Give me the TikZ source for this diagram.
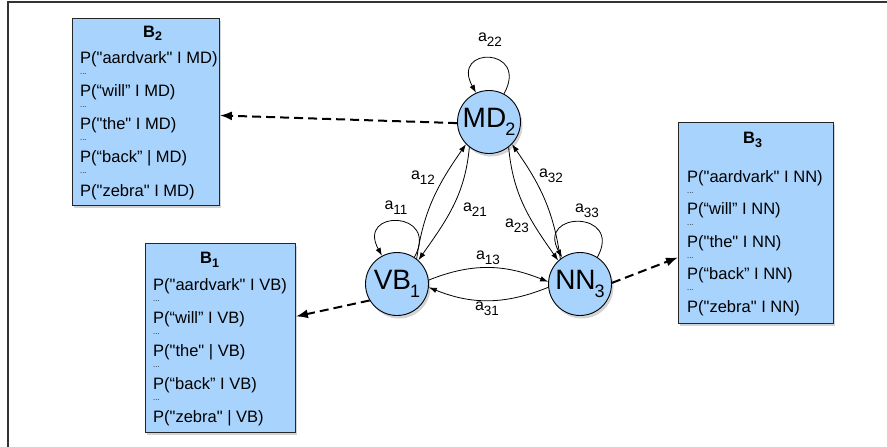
\documentclass[tikz,border=0pt]{standalone}
\usepackage{fontspec}
\setmainfont{Liberation Sans}[Ligatures=TeXOff]
\usetikzlibrary{arrows.meta,shadows}
\definecolor{stfill}{RGB}{168,211,253}
\newcommand{\alabel}[1]{a\raisebox{-5pt}{\fontsize{13.5}{13.5}\selectfont #1}}
\newcommand{\stlabel}[2]{#1\kern-1pt\raisebox{-8pt}{\fontsize{18}{18}\selectfont #2}}
\newcommand{\btl}[1]{B\raisebox{-4pt}{\fontsize{12.5}{12.5}\selectfont #1}}
\begin{document}
\begin{tikzpicture}[x=1pt,y=1pt,
  state/.style={circle, draw=black, line width=0.9pt, fill=stfill, minimum size=63pt, inner sep=0pt,
    drop shadow={opacity=0.35, shadow xshift=2pt, shadow yshift=-3pt},
    font=\fontsize{28}{28}\selectfont},
  bbox/.style={rectangle, draw=black!85, line width=0.9pt, fill=stfill, anchor=north west, inner sep=0pt,
    drop shadow={opacity=0.35, shadow xshift=2pt, shadow yshift=-3pt}},
  bline/.style={anchor=base west, inner sep=0pt, font=\fontsize{16.5}{16.5}\selectfont},
  bdots/.style={anchor=base west, inner sep=0pt, font=\fontsize{7.5}{7.5}\selectfont},
  btitle/.style={anchor=base west, inner sep=0pt, font=\bfseries\fontsize{16.5}{16.5}\selectfont},
  trans/.style={-{Latex[length=8pt,width=5.5pt]}, line width=0.8pt},
  emit/.style={-{Latex[length=12pt,width=9pt]}, line width=2pt, dash pattern=on 9pt off 5pt},
  alab/.style={inner sep=0pt, font=\fontsize{16}{16}\selectfont}
]
\useasboundingbox (0,0) rectangle (887,-447);
\draw[line width=1.2pt, draw=black!80] (8,-447) -- (8,-2) -- (887,-2);

% emission boxes
\node[bbox, minimum width=147pt, minimum height=187pt] (b2) at (72,-18) {};
\node[bbox, minimum width=150pt, minimum height=189pt] (b1) at (145,-243) {};
\node[bbox, minimum width=155pt, minimum height=201pt] (b3) at (678,-122) {};

\node[btitle] (b2t) at (143,-37) {\btl{2}};
\foreach \t [count=\i from 0] in {P("aardvark" I MD), P(“will” I MD), P("the" I MD), P(“back” | MD), P("zebra" I MD)}
  \node[bline] (b2l\i) at (80,{-63-33.25*\i}) {\t};
\foreach \i in {0,...,3}
  \node[bdots] (b2d\i) at (80,{-74-33.25*\i}) {...};

\node[btitle] (b1t) at (200,-263) {\btl{1}};
\foreach \t [count=\i from 0] in {P("aardvark" I VB), P(“will” I VB), P("the" | VB), P(“back” I VB), P("zebra" | VB)}
  \node[bline] (b1l\i) at (153,{-290-33*\i}) {\t};
\foreach \i in {0,...,3}
  \node[bdots] (b1d\i) at (153,{-301-33*\i}) {...};

\node[btitle] (b3t) at (743,-143) {\btl{3}};
\foreach \t [count=\i from 0] in {P("aardvark" I NN), P(“will” I NN), P("the" I NN), P(“back” I NN), P("zebra" I NN)}
  \node[bline] (b3l\i) at (687,{-182-32.5*\i}) {\t};
\foreach \i in {0,...,3}
  \node[bdots] (b3d\i) at (687,{-193-32.5*\i}) {...};

% states
\node[state] (md) at (489,-122) {\stlabel{MD}{2}};
\node[state] (vb) at (397,-284) {\stlabel{VB}{1}};
\node[state] (nn) at (580,-284) {\stlabel{NN}{3}};

% self loops
\draw[trans] (md.62) .. controls +(26,47) and +(-26,47) .. (md.114);
\draw[trans] (vb.57) .. controls +(26,47) and +(-26,47) .. (vb.118);
\draw[trans] (nn.57) .. controls +(26,47) and +(-26,47) .. (nn.124);

% transitions
\draw[trans] (vb.52) to[out=82, in=235] (md.224);
\draw[trans] (md.232) to[out=265, in=55] (vb.48);
\draw[trans] (md.308) to[out=275, in=125] (nn.133);
\draw[trans] (nn.128) to[out=98, in=305] (md.316);
\draw[trans] (vb.7) to[out=22, in=158] (nn.176);
\draw[trans] (nn.186) to[out=202, in=-22] (vb.354);

% labels
\node[alab] (l22) at (490,-40) {\alabel{22}};
\node[alab] (l11) at (396,-208) {\alabel{11}};
\node[alab] (l33) at (587,-211) {\alabel{33}};
\node[alab] (l12) at (423,-178) {\alabel{12}};
\node[alab] (l21) at (475,-210) {\alabel{21}};
\node[alab] (l32) at (551,-176) {\alabel{32}};
\node[alab] (l23) at (517,-226) {\alabel{23}};
\node[alab] (l13) at (488,-258) {\alabel{13}};
\node[alab] (l31) at (487,-309) {\alabel{31}};

% emissions
\draw[emit] (md.182) -- ([yshift=-3.5pt]b2.east);
\draw[emit] (vb.211) -- ([yshift=21.5pt]b1.east);
\draw[emit] (nn.2) -- ([yshift=-34.5pt]b3.west);
\end{tikzpicture}
\end{document}
